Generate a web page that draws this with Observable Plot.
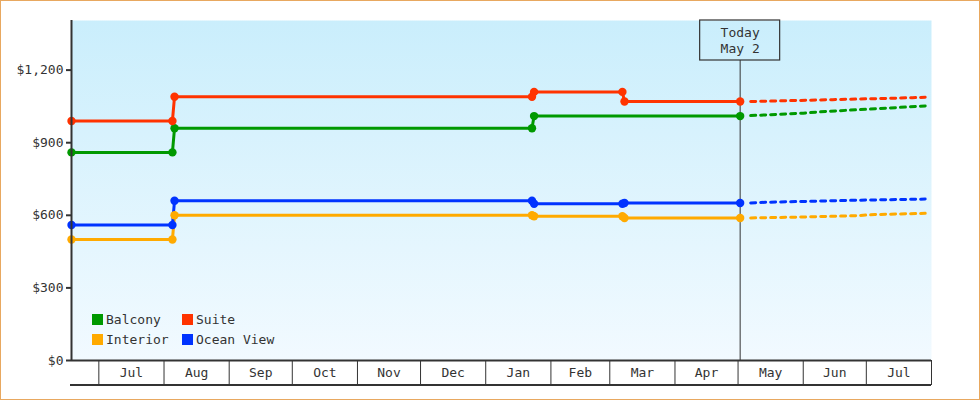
<!DOCTYPE html>
<html>
<head>
<meta charset="utf-8">
<script src="https://cdn.jsdelivr.net/npm/d3@7"></script>
<script src="https://cdn.jsdelivr.net/npm/@observablehq/plot@0.6"></script>
<style>
  html, body { margin: 0; padding: 0; background: #fff; }
  #wrap { position: relative; width: 980px; height: 400px; overflow: hidden; }
  #border { position: absolute; left: 0; top: 0; width: 980px; height: 400px; box-sizing: border-box; border: 1px solid #e8a860; pointer-events: none; }
  #legend { position: absolute; left: 92px; top: 312px; display: grid; grid-template-columns: 90px auto; row-gap: 5px;
            font-family: "DejaVu Sans Mono", monospace; font-size: 13px; color: #333; }
  #legend .item { display: flex; align-items: center; height: 15px; }
  #legend .sw { width: 11px; height: 11px; margin-right: 3px; }
  svg text { font-family: "DejaVu Sans Mono", monospace; }
</style>
</head>
<body>
<div id="wrap"><div id="chart"></div><div id="legend"></div><div id="border"></div></div>
<script>
// ---- data ----
const seriesNames = ["Balcony", "Suite", "Interior", "Ocean View"];
const seriesColors = ["#009900", "#ff3300", "#ffaa00", "#0033ff"];

const balconyDates = ["2022-06-18", "2022-08-05", "2022-08-06", "2023-01-23", "2023-01-24", "2023-05-02"];
const balconyValues = [860, 860, 960, 960, 1010, 1010];
const suiteDates = ["2022-06-18", "2022-08-05", "2022-08-06", "2023-01-23", "2023-01-24", "2023-03-07", "2023-03-08", "2023-05-02"];
const suiteValues = [990, 990, 1090, 1090, 1110, 1110, 1070, 1070];
const interiorDates = ["2022-06-18", "2022-08-05", "2022-08-06", "2023-01-23", "2023-01-24", "2023-03-07", "2023-03-08", "2023-05-02"];
const interiorValues = [500, 500, 600, 600, 596, 596, 589, 589];
const oceanDates = ["2022-06-18", "2022-08-05", "2022-08-06", "2023-01-23", "2023-01-24", "2023-03-07", "2023-03-08", "2023-05-02"];
const oceanValues = [560, 560, 660, 660, 648, 648, 651, 651];

// forecast (dotted)
const balconyFcDates = ["2023-05-07", "2023-06-01", "2023-06-13", "2023-07-01", "2023-07-29"];
const balconyFcValues = [1012, 1022, 1030, 1038, 1052];
const suiteFcDates = ["2023-05-07", "2023-06-15", "2023-07-05", "2023-07-23", "2023-07-29"];
const suiteFcValues = [1070, 1078, 1082, 1086, 1088];
const interiorFcDates = ["2023-05-07", "2023-06-01", "2023-06-25", "2023-07-05", "2023-07-29"];
const interiorFcValues = [589, 593, 598, 603, 608];
const oceanFcDates = ["2023-05-07", "2023-05-14", "2023-06-05", "2023-06-25", "2023-07-29"];
const oceanFcValues = [651, 654, 658, 662, 667];

const todayDate = "2023-05-02";
const todayLabel = ["Today", "May 2"];
const xDomainDates = ["2022-06-18", "2023-08-01"];
const yMax = 1405;
const yTicks = [0, 300, 600, 900, 1200];
const monthStarts = ["2022-07-01","2022-08-01","2022-09-01","2022-10-01","2022-11-01","2022-12-01","2023-01-01","2023-02-01","2023-03-01","2023-04-01","2023-05-01","2023-06-01","2023-07-01","2023-08-01"];
const monthLabels = ["Jul","Aug","Sep","Oct","Nov","Dec","Jan","Feb","Mar","Apr","May","Jun","Jul"];

// ---- build tables ----
const P = d3.utcParse("%Y-%m-%d");
function rows(name, dates, values) { return dates.map((d, i) => ({series: name, date: P(d), value: values[i]})); }
const actual = [
  ...rows("Balcony", balconyDates, balconyValues),
  ...rows("Suite", suiteDates, suiteValues),
  ...rows("Interior", interiorDates, interiorValues),
  ...rows("Ocean View", oceanDates, oceanValues)
];
const forecast = [
  ...rows("Balcony", balconyFcDates, balconyFcValues),
  ...rows("Suite", suiteFcDates, suiteFcValues),
  ...rows("Interior", interiorFcDates, interiorFcValues),
  ...rows("Ocean View", oceanFcDates, oceanFcValues)
];
const today = P(todayDate);
const starts = monthStarts.map(P);
const mids = monthLabels.map((m, i) => new Date((+starts[i] + +starts[i + 1]) / 2));

const ink = "#333";
const plot = Plot.plot({
  width: 980, height: 400,
  marginLeft: 71, marginRight: 49, marginTop: 20, marginBottom: 40,
  style: {fontFamily: "DejaVu Sans Mono, monospace", fontSize: "13px", color: ink, background: "transparent", overflow: "visible"},
  x: {type: "utc", domain: xDomainDates.map(P)},
  y: {domain: [0, yMax]},
  color: {domain: seriesNames, range: seriesColors},
  marks: [
    Plot.frame({fill: "url(#bggrad)", stroke: "none"}),
    Plot.ruleX([today], {stroke: ink, strokeWidth: 1, insetTop: 40}),
    Plot.line(forecast, {x: "date", y: "value", z: "series", stroke: "series", strokeWidth: 3, strokeDasharray: "5,5"}),
    Plot.line(actual, {x: "date", y: "value", z: "series", stroke: "series", strokeWidth: 3}),
    Plot.dot(actual, {x: "date", y: "value", fill: "series", r: 4.2, stroke: "none"}),
    Plot.axisY({ticks: yTicks, label: null, tickFormat: d3.format("$,"), tickSize: 5, tickPadding: 3, stroke: ink, strokeWidth: 2, fill: ink}),
    Plot.axisX({ticks: starts, label: null, tickSize: 25, tickFormat: () => "", stroke: ink, strokeWidth: 1}),
    Plot.axisX({ticks: mids, label: null, tickSize: 0, tickPadding: 7, tickFormat: (d, i) => monthLabels[i], fill: ink}),
    Plot.ruleX([xDomainDates[0]].map(P), {stroke: ink, strokeWidth: 2}),
    Plot.ruleY([0], {stroke: ink, strokeWidth: 2}),
    Plot.text([today], {x: d => d, frameAnchor: "top", dy: 4, text: () => todayLabel.join("\n"), lineAnchor: "top", lineHeight: 1.3, fill: ink, fontSize: 13})
  ]
});
document.getElementById("chart").appendChild(plot);

// gradient + decorations derived from scales
const svg = d3.select(plot);
const defs = svg.insert("defs", ":first-child");
const g = defs.append("linearGradient").attr("id", "bggrad").attr("x1", 0).attr("y1", 0).attr("x2", 0).attr("y2", 1);
g.append("stop").attr("offset", "0%").attr("stop-color", "#caeefc");
g.append("stop").attr("offset", "100%").attr("stop-color", "#f2faff");
const xs = plot.scale("x"), ys = plot.scale("y");
const tx = xs.apply(today);
svg.append("rect").attr("x", tx - 40).attr("y", ys.range[1]).attr("width", 80).attr("height", 40)
  .attr("fill", "none").attr("stroke", ink).attr("stroke-width", 1.2);
svg.append("line").attr("x1", xs.range[0] - 1).attr("x2", xs.range[1]).attr("y1", ys.range[0] + 25).attr("y2", ys.range[0] + 25)
  .attr("stroke", ink).attr("stroke-width", 2);

// legend
const legend = d3.select("#legend");
seriesNames.forEach((name, i) => {
  const item = legend.append("div").attr("class", "item");
  item.append("div").attr("class", "sw").style("background", seriesColors[i]);
  item.append("span").text(name);
});
</script>
</body>
</html>
